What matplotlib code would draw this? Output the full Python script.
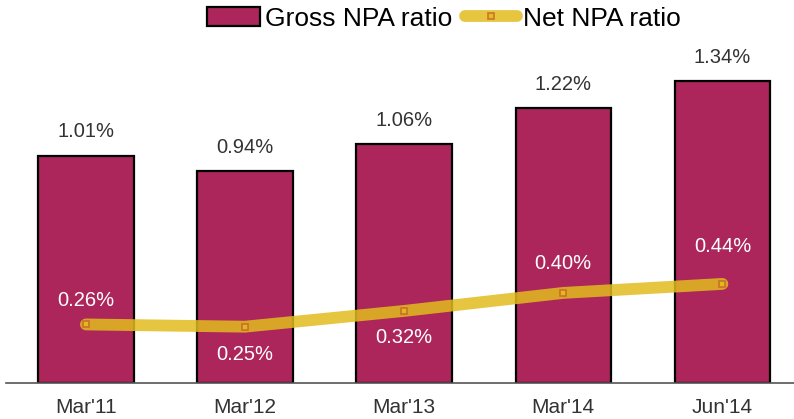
import matplotlib.pyplot as plt
import numpy as np

plt.rcParams['font.family'] = ['Liberation Sans', 'DejaVu Sans']

periods = ["Mar'11", "Mar'12", "Mar'13", "Mar'14", "Jun'14"]
gross_npa = [1.01, 0.94, 1.06, 1.22, 1.34]
net_npa = [0.26, 0.25, 0.32, 0.40, 0.44]

# where each net NPA label sits relative to its point (data units)
net_label_offset = [0.107, -0.125, -0.12, 0.13, 0.165]

fig = plt.figure(figsize=(7.94, 4.19), dpi=100)
ax = fig.add_axes([0.008, 0.086, 0.992, 0.806])

x = np.arange(len(periods))
bars = ax.bar(x, gross_npa, width=0.6, color='#AC265B', edgecolor='black',
              linewidth=1.6, label='Gross NPA ratio', zorder=2)
line, = ax.plot(x, net_npa, color='#E2BC1E', alpha=0.85, linewidth=8.5,
                solid_capstyle='round', marker='s', markersize=4,
                markerfacecolor='#E2BC1E', markeredgecolor='#C8662A',
                markeredgewidth=1.2, label='Net NPA ratio', zorder=3)

for xi, v in zip(x, gross_npa):
    ax.text(xi, v + 0.107, f'{v:.2f}%', ha='center', va='center',
            fontsize=14.5, color='#333333')

for xi, v, off in zip(x, net_npa, net_label_offset):
    ax.text(xi, v + off, f'{v:.2f}%', ha='center', va='center',
            fontsize=14.5, color='white', zorder=4)

ax.set_xlim(-0.5, 4.45)
ax.set_ylim(0, 1.5)
ax.set_xticks(x)
ax.set_xticklabels(periods, fontsize=15, color='#333333')
ax.tick_params(axis='x', length=0, pad=11)
ax.set_yticks([])
for s in ['top', 'right', 'left']:
    ax.spines[s].set_visible(False)
ax.spines['bottom'].set_color('#555555')
ax.spines['bottom'].set_linewidth(1.2)

fig.legend(handles=[bars, line], loc='center', bbox_to_anchor=(0.559, 0.955),
           ncol=2, frameon=False, fontsize=19, handlelength=2.0,
           handleheight=0.75, handletextpad=0.2, columnspacing=0.45,
           borderpad=0)

fig.savefig('out.png', dpi=100)
